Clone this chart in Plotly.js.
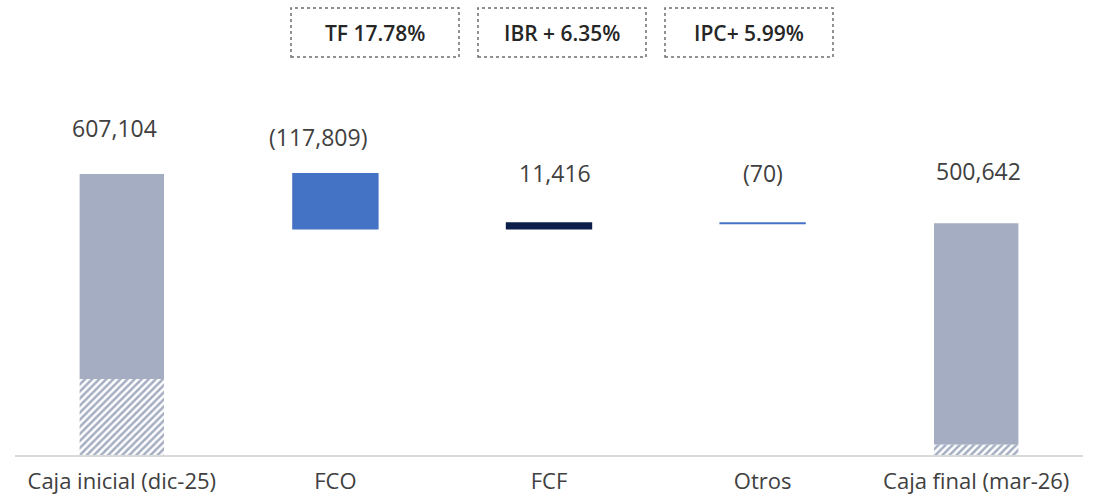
<!DOCTYPE html>
<html>
<head>
<meta charset="utf-8">
<script src="https://cdn.plot.ly/plotly-3.0.1.min.js"></script>
<style>html,body{margin:0;padding:0;background:#fff;}#chart{width:1104px;height:498px;}</style>
</head>
<body>
<div id="chart"></div>
<script>
// ---- data ----
var categories = ["Caja inicial (dic-25)", "FCO", "FCF", "Otros", "Caja final (mar-26)"];
var values = [607104, -117809, 11416, -70, 500642];
var measures = ["total", "relative", "relative", "relative", "total"];
var hatchedPart = [164000, 0, 0, 0, 22000];   // estimated striped portion of the totals
var badges = ["TF 17.78%", "IBR + 6.35%", "IPC+ 5.99%"];

// ---- styles ----
var C_TOTAL = "#a4adc2", C_DOWN = "#4472c4", C_UP = "#0d1f4a", TXT = "#404040";
var FONT = "Open Sans, Liberation Sans, sans-serif";
var LABEL_SHIFTS = [[-7, 46], [-17, 37], [6, 50], [0, 50], [2, 52]]; // [xshift, yshift] px
var BADGE_BOXES = [[291, 459], [478, 646], [665, 833]]; // px, x extents
var BADGE_Y = [8, 57];
var M = {l: 15, r: 21, t: 131, b: 43};
var W = 1104, H = 498;

function fmt(v) {
  var s = Math.abs(v).toLocaleString("en-US");
  return v < 0 ? "(" + s + ")" : s;
}

// build bars
var solidBase = [], solidLen = [], solidColor = [], lineW = [];
var hatchBase = [], hatchLen = [], tops = [];
var running = 0;
for (var i = 0; i < categories.length; i++) {
  if (measures[i] === "total") {
    running = values[i];
    solidBase.push(hatchedPart[i]);
    solidLen.push(values[i] - hatchedPart[i]);
    solidColor.push(C_TOTAL);
    lineW.push(0);
    hatchBase.push(0);
    hatchLen.push(hatchedPart[i]);
    tops.push(values[i]);
  } else {
    var prev = running;
    running = prev + values[i];
    solidBase.push(Math.min(prev, running));
    solidLen.push(Math.abs(values[i]));
    solidColor.push(values[i] < 0 ? C_DOWN : C_UP);
    lineW.push(2);
    hatchBase.push(0);
    hatchLen.push(0);
    tops.push(Math.max(prev, running));
  }
}

var traces = [
  {
    type: "bar", x: categories, y: solidLen, base: solidBase,
    marker: {color: solidColor, line: {color: solidColor, width: lineW}},
    hoverinfo: "skip", showlegend: false
  },
  {
    type: "bar", x: categories, y: hatchLen, base: hatchBase,
    marker: {
      color: "#ffffff",
      line: {width: 0},
      pattern: {shape: "/", fgcolor: C_TOTAL, bgcolor: "#ffffff", fillmode: "replace", size: 5, solidity: 0.5}
    },
    hoverinfo: "skip", showlegend: false
  }
];

var plotW = W - M.l - M.r, plotH = H - M.t - M.b;
function px2paperX(px) { return (px - M.l) / plotW; }
function px2paperY(py) { return (H - M.b - py) / plotH; }

var annotations = [];
for (var j = 0; j < categories.length; j++) {
  annotations.push({
    x: categories[j], y: tops[j], xref: "x", yref: "y",
    text: fmt(values[j]), showarrow: false,
    xshift: LABEL_SHIFTS[j][0], yshift: LABEL_SHIFTS[j][1],
    yanchor: "middle", xanchor: "center",
    font: {family: FONT, size: 23, color: TXT}
  });
}
var shapes = [];
for (var k = 0; k < badges.length; k++) {
  var x0 = px2paperX(BADGE_BOXES[k][0]), x1 = px2paperX(BADGE_BOXES[k][1]);
  var y0 = px2paperY(BADGE_Y[1]), y1 = px2paperY(BADGE_Y[0]);
  shapes.push({
    type: "rect", xref: "paper", yref: "paper", x0: x0, x1: x1, y0: y0, y1: y1,
    line: {color: "#6e6e6e", width: 1.5, dash: "dot"}, fillcolor: "rgba(0,0,0,0)"
  });
  annotations.push({
    x: (x0 + x1) / 2, y: (y0 + y1) / 2, xref: "paper", yref: "paper",
    text: badges[k], showarrow: false, xanchor: "center", yanchor: "middle",
    font: {family: FONT, size: 21, color: "#262626", weight: 600}
  });
}

var layout = {
  width: W, height: H,
  margin: M,
  paper_bgcolor: "#ffffff", plot_bgcolor: "#ffffff",
  barmode: "overlay", bargap: 0.605,
  xaxis: {
    type: "category", showline: true, linecolor: "#d9d9d9", linewidth: 2,
    ticks: "", showgrid: false, zeroline: false, ticklabelstandoff: 6,
    tickfont: {family: FONT, size: 22, color: TXT}, fixedrange: true
  },
  yaxis: {visible: false, range: [0, 700000], showgrid: false, zeroline: false, fixedrange: true},
  annotations: annotations,
  shapes: shapes,
  font: {family: FONT}
};

Plotly.newPlot("chart", traces, layout, {displayModeBar: false, staticPlot: true});
</script>
</body>
</html>
